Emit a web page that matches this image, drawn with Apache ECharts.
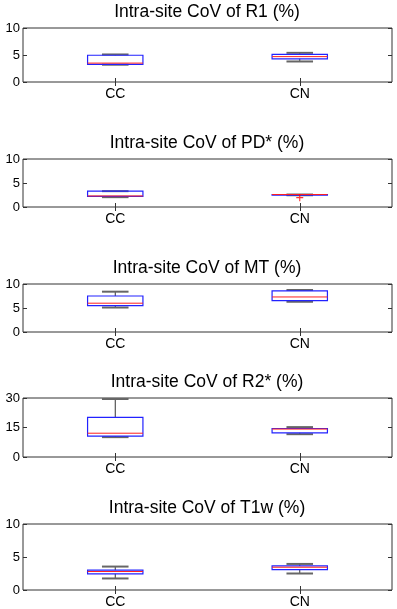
<!DOCTYPE html>
<html>
<head>
<meta charset="utf-8">
<script src="https://cdn.jsdelivr.net/npm/echarts@6/dist/echarts.min.js"></script>
<style>
  html, body { margin: 0; padding: 0; background: #fff; }
  #chart { width: 397px; height: 609px; }
</style>
</head>
<body>
<div id="chart"></div>
<script>
// categories and panel titles
const categories = ['CC', 'CN'];
const titles = [
  'Intra-site CoV of R1 (%)',
  'Intra-site CoV of PD* (%)',
  'Intra-site CoV of MT (%)',
  'Intra-site CoV of R2* (%)',
  'Intra-site CoV of T1w (%)'
];

// box stats per category: [min, Q1, median, Q3, max]
const r1 = [[3.2, 3.25, 3.5, 4.95, 5.1], [3.8, 4.3, 4.7, 5.1, 5.4]];
const pd = [[2.05, 2.2, 2.3, 3.3, 3.3], [2.45, 2.45, 2.6, 2.6, 2.6]];
const mt = [[5.1, 5.5, 6.0, 7.5, 8.4], [6.3, 6.55, 7.3, 8.55, 8.75]];
const r2 = [[10.1, 10.6, 12.1, 20.1, 29.5], [11.6, 12.3, 14.2, 14.5, 15.2]];
const t1w = [[1.75, 2.45, 2.8, 3.0, 3.55], [2.5, 3.1, 3.45, 3.65, 3.95]];
const boxes = [r1, pd, mt, r2, t1w];

// outliers: [categoryIndex, value]
const outliers = [[], [[1, 1.95]], [], [], []];

// y axis ranges
const yMax = [10, 10, 10, 30, 10];
const yInterval = [5, 5, 5, 15, 5];

// layout
const gridTop = [28, 159, 284, 398, 524];
const gridBottom = [82, 207, 332, 457, 590];

const frameColor = '#333';
const fontFam = 'Liberation Sans, Arial, sans-serif';

function renderBox(params, api) {
  const idx = api.value(0);
  const lo = api.coord([idx, api.value(1)]);
  const q1 = api.coord([idx, api.value(2)]);
  const med = api.coord([idx, api.value(3)]);
  const q3 = api.coord([idx, api.value(4)]);
  const hi = api.coord([idx, api.value(5)]);
  const bw = api.size([1, 0])[0] * 0.15;
  const cw = bw * 0.48;
  const x = lo[0];
  return {
    type: 'group',
    children: [
      { type: 'line', shape: { x1: x, y1: hi[1], x2: x, y2: q3[1] }, style: { stroke: '#333', lineWidth: 1 } },
      { type: 'line', shape: { x1: x, y1: q1[1], x2: x, y2: lo[1] }, style: { stroke: '#333', lineWidth: 1 } },
      { type: 'line', shape: { x1: x - cw, y1: hi[1], x2: x + cw, y2: hi[1] }, style: { stroke: '#666', lineWidth: 2 } },
      { type: 'line', shape: { x1: x - cw, y1: lo[1], x2: x + cw, y2: lo[1] }, style: { stroke: '#666', lineWidth: 2 } },
      { type: 'rect', shape: { x: x - bw, y: q3[1], width: bw * 2, height: q1[1] - q3[1] },
        style: { fill: 'none', stroke: '#2222ff', lineWidth: 1.2 } },
      { type: 'line', shape: { x1: x - bw, y1: med[1], x2: x + bw, y2: med[1] }, style: { stroke: '#ff2020', lineWidth: 1 } }
    ]
  };
}

const option = { animation: false, title: [], grid: [], xAxis: [], yAxis: [], series: [] };

titles.forEach((t, i) => {
  option.title.push({
    text: t, left: 207, top: gridTop[i] - 25, textAlign: 'center', padding: 0,
    textStyle: { fontSize: 17.5, fontWeight: 'normal', color: '#000', fontFamily: fontFam }
  });
  option.grid.push({
    left: 23, width: 369, top: gridTop[i], height: gridBottom[i] - gridTop[i],
    show: true, borderColor: frameColor, borderWidth: 1, backgroundColor: '#fff'
  });
  const xa = 2 * i, ya = 2 * i;
  option.xAxis.push({
    type: 'category', data: categories, gridIndex: i, position: 'bottom',
    axisLine: { show: false },
    axisTick: { show: true, inside: true, alignWithLabel: true, length: 4, lineStyle: { color: frameColor } },
    axisLabel: { margin: 5, color: '#000', fontSize: 14, fontFamily: fontFam }
  });
  option.xAxis.push({
    type: 'category', data: categories, gridIndex: i, position: 'top',
    axisLine: { show: false },
    axisTick: { show: true, inside: true, alignWithLabel: true, length: 4, lineStyle: { color: frameColor } },
    axisLabel: { show: false }
  });
  option.yAxis.push({
    type: 'value', gridIndex: i, min: 0, max: yMax[i], interval: yInterval[i], position: 'left',
    axisLine: { show: false }, splitLine: { show: false },
    axisTick: { show: true, inside: true, length: 4, lineStyle: { color: frameColor } },
    axisLabel: { margin: 3, color: '#000', fontSize: 13, fontFamily: fontFam }
  });
  option.yAxis.push({
    type: 'value', gridIndex: i, min: 0, max: yMax[i], interval: yInterval[i], position: 'right',
    axisLine: { show: false }, splitLine: { show: false },
    axisTick: { show: true, inside: true, length: 4, lineStyle: { color: frameColor } },
    axisLabel: { show: false }
  });
  option.series.push({
    type: 'custom', xAxisIndex: xa, yAxisIndex: ya,
    renderItem: renderBox,
    encode: { x: 0, y: [1, 2, 3, 4, 5] },
    data: boxes[i].map((b, k) => [k].concat(b)),
    z: 5
  });
  if (outliers[i].length) {
    option.series.push({
      type: 'scatter', xAxisIndex: xa, yAxisIndex: ya,
      symbol: 'path://M0,4.2H10V5.8H0Z M4.2,0H5.8V10H4.2Z', symbolSize: 7,
      itemStyle: { color: '#ff0000' },
      data: outliers[i], z: 6
    });
  }
});

const chart = echarts.init(document.getElementById('chart'));
chart.setOption(option);
</script>
</body>
</html>
